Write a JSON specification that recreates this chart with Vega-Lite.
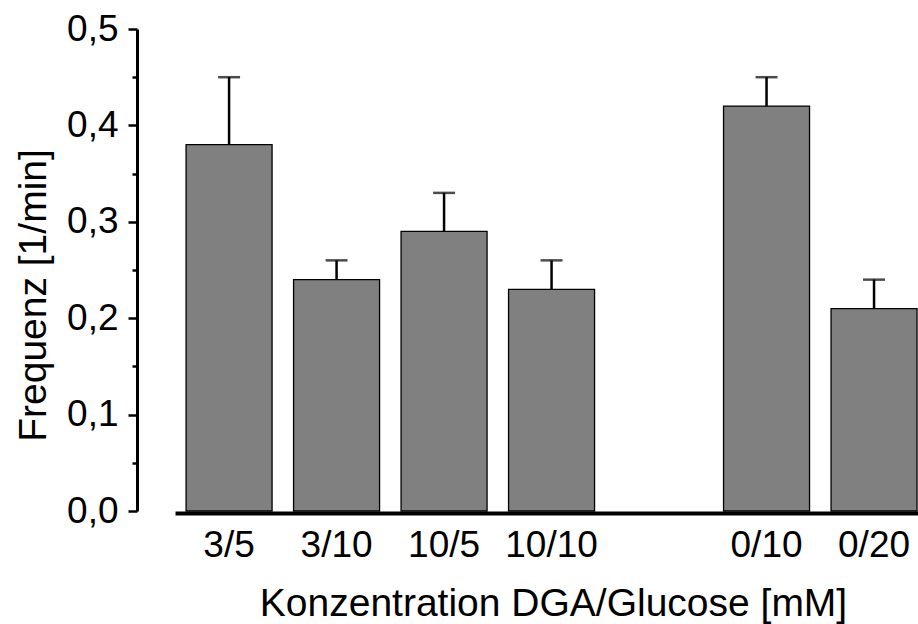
{
  "$schema": "https://vega.github.io/schema/vega-lite/v6.json",
  "width": 743,
  "height": 482,
  "autosize": "none",
  "padding": {"left": 175, "top": 29, "right": 0, "bottom": 113},
  "background": "white",
  "config": {
    "view": {"stroke": null},
    "axis": {
      "labelFont": "Liberation Sans",
      "titleFont": "Liberation Sans",
      "labelColor": "black",
      "titleColor": "black",
      "domainColor": "black",
      "tickColor": "black",
      "titleFontWeight": "normal",
      "grid": false
    }
  },
  "data": {
    "values": [
      {"cond": "3/5", "freq": 0.38, "upper": 0.45},
      {"cond": "3/10", "freq": 0.24, "upper": 0.26},
      {"cond": "10/5", "freq": 0.29, "upper": 0.33},
      {"cond": "10/10", "freq": 0.23, "upper": 0.26},
      {"cond": "0/10", "freq": 0.42, "upper": 0.45},
      {"cond": "0/20", "freq": 0.21, "upper": 0.24}
    ]
  },
  "encoding": {
    "x": {
      "field": "cond",
      "type": "nominal",
      "scale": {
        "domain": ["3/5", "3/10", "10/5", "10/10", " ", "0/10", "0/20"],
        "paddingInner": 0.2,
        "paddingOuter": 0.056,
        "align": 0.92
      },
      "axis": {
        "title": "Konzentration DGA/Glucose [mM]",
        "offset": 2,
        "ticks": false,
        "labelAngle": 0,
        "labelFontSize": 37,
        "titleFontSize": 39,
        "domainWidth": 4,
        "labelPadding": 43,
        "labelBaseline": "alphabetic",
        "titleBaseline": "alphabetic",
        "titleY": 102,
        "titleX": 378
      }
    }
  },
  "layer": [
    {
      "mark": {"type": "bar", "fill": "#808080", "stroke": "black", "strokeWidth": 1.3},
      "encoding": {
        "y": {
          "field": "freq",
          "type": "quantitative",
          "scale": {"domain": [0, 0.5], "nice": false, "zero": true},
          "axis": {
            "title": "Frequenz [1/min]",
            "offset": 38,
            "values": [0, 0.05, 0.1, 0.15, 0.2, 0.25, 0.3, 0.35, 0.4, 0.45, 0.5],
            "labelExpr": "round(datum.value*20) % 2 == 0 ? replace(format(datum.value, '.1f'), '.', ',') : ''",
            "labelFontSize": 37,
            "titleFontSize": 39,
            "domainWidth": 3,
            "tickWidth": 2.5,
            "tickSize": {"condition": {"test": "round(datum.value*20) % 2 == 0", "value": 9}, "value": 5},
            "labelPadding": 10,
            "labelOverlap": false,
            "titleAngle": -90,
            "titleAlign": "center",
            "titleBaseline": "middle",
            "titleX": -104,
            "titleY": 266
          }
        }
      }
    },
    {
      "mark": {"type": "rule", "color": "black", "strokeWidth": 2.5},
      "encoding": {
        "y": {"field": "freq", "type": "quantitative"},
        "y2": {"field": "upper"}
      }
    },
    {
      "mark": {"type": "tick", "color": "black", "size": 22, "thickness": 2.5, "orient": "horizontal"},
      "encoding": {
        "y": {"field": "upper", "type": "quantitative"}
      }
    }
  ]
}
